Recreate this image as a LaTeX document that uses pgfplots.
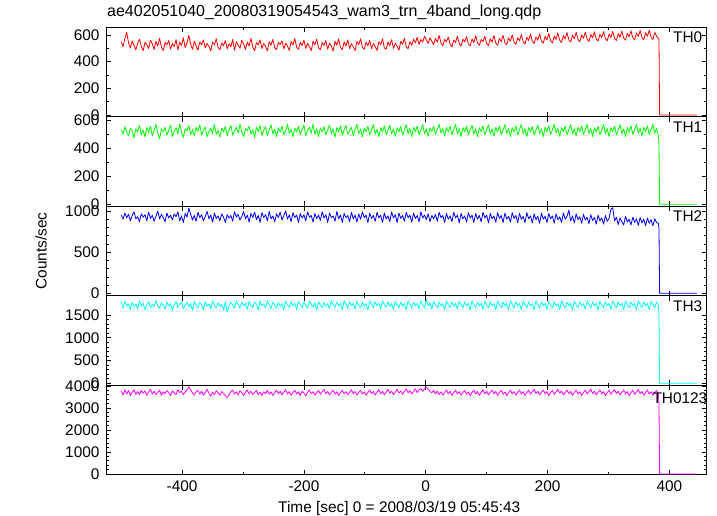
\documentclass[border=0pt]{standalone}
\usepackage{fontspec}
\setmainfont{Liberation Sans}
\usepackage{pgfplots}
\usepackage{pgfplotstable}
\pgfplotsset{compat=1.18}
\definecolor{qred}{rgb}{1,0,0}
\definecolor{qgreen}{rgb}{0,1,0}
\definecolor{qblue}{rgb}{0,0,1}
\definecolor{qcyan}{rgb}{0,1,1}
\definecolor{qmag}{rgb}{1,0,1}

\pgfplotstableread{
t r g b c m
-500 548 531 952 1790 3760
-497 512 498 901 1650 3590
-494 575 552 975 1805 3820
-491 620 509 918 1700 3640
-488 541 487 960 1745 3790
-485 503 541 880 1620 3560
-482 556 523 945 1780 3710
-479 521 472 990 1690 3830
-476 489 538 905 1735 3620
-473 537 515 930 1640 3745
-470 569 561 870 1810 3600
-467 514 494 965 1700 3800
-464 482 529 925 1760 3680
-461 545 479 955 1615 3770
-458 527 547 880 1725 3575
-455 498 512 985 1795 3720
-452 561 556 910 1660 3850
-449 533 488 948 1740 3630
-446 491 525 875 1690 3760
-443 552 570 935 1820 3610
-440 517 503 1000 1705 3700
-437 574 466 905 1650 3810
-434 508 534 960 1770 3580
-431 484 517 920 1715 3740
-428 543 549 870 1630 3650
-425 526 491 975 1785 3795
-422 559 528 915 1690 3700
-419 495 564 950 1750 3560
-416 537 483 890 1605 3780
-413 513 519 965 1730 3690
-410 566 545 930 1800 3615
-407 488 501 990 1670 3830
-404 547 573 880 1745 3700
-401 522 512 940 1780 3760
-398 579 476 860 1640 3600
-395 506 537 970 1720 3735
-392 541 524 925 1790 3820
-389 597 559 1035 1680 3960
-386 531 497 960 1755 3830
-383 493 532 890 1600 3680
-380 554 485 945 1805 3590
-377 519 548 875 1700 3745
-374 486 521 985 1650 3800
-371 548 566 920 1770 3630
-368 527 493 955 1725 3760
-365 563 529 880 1615 3580
-362 502 551 935 1795 3710
-359 538 481 995 1690 3840
-356 515 517 905 1740 3670
-353 481 542 950 1635 3540
-350 546 505 865 1815 3720
-347 529 568 975 1710 3610
-344 572 499 910 1660 3790
-341 507 526 940 1770 3690
-338 489 478 880 1690 3575
-335 541 544 965 1735 3750
-332 520 515 925 1610 3660
-329 558 553 860 1790 3560
-326 496 489 955 1560 3470
-323 534 531 915 1705 3600
-320 512 562 945 1775 3730
-317 567 494 875 1720 3810
-314 485 520 990 1650 3640
-311 549 547 925 1815 3740
-308 524 506 960 1735 3590
-305 501 571 890 1665 3780
-302 560 513 935 1780 3690
-299 533 482 995 1700 3560
-296 492 538 905 1750 3730
-293 547 525 950 1625 3820
-290 518 556 865 1800 3640
-287 575 498 970 1715 3760
-284 509 534 920 1665 3600
-281 483 476 985 1785 3700
-278 542 549 895 1740 3800
-275 527 518 945 1620 3610
-272 563 560 860 1810 3720
-269 498 491 980 1705 3560
-266 536 527 920 1745 3740
-263 514 553 955 1660 3650
-260 481 486 880 1820 3805
-257 550 529 995 1715 3620
-254 523 567 905 1640 3735
-251 568 501 940 1785 3570
-248 505 535 870 1730 3700
-245 490 480 965 1655 3815
-242 545 546 920 1775 3655
-239 529 514 985 1690 3760
-236 556 557 890 1750 3590
-233 496 493 945 1615 3720
-230 538 522 1000 1805 3830
-227 517 571 900 1725 3640
-224 484 505 955 1670 3745
-221 551 533 870 1790 3580
-218 526 479 980 1700 3710
-215 573 542 920 1760 3800
-212 508 519 950 1620 3630
-209 493 555 860 1800 3735
-206 546 496 970 1725 3570
-203 521 531 915 1665 3760
-200 562 564 955 1785 3680
-197 499 487 880 1710 3545
-194 537 526 990 1650 3720
-191 513 549 925 1810 3815
-188 482 508 945 1740 3650
-185 553 572 865 1680 3740
-182 528 499 970 1770 3585
-179 569 537 905 1605 3700
-176 504 482 950 1790 3790
-173 490 544 885 1715 3625
-170 544 516 990 1660 3735
-167 522 553 915 1775 3840
-164 558 495 955 1695 3650
-161 494 528 860 1750 3750
-158 539 565 975 1635 3590
-155 516 504 920 1815 3715
-152 480 538 940 1725 3805
-149 552 477 875 1670 3630
-146 525 547 995 1785 3740
-143 570 513 905 1700 3570
-140 506 559 950 1755 3700
-137 491 491 860 1620 3800
-134 547 530 970 1810 3640
-131 519 562 920 1730 3745
-128 564 497 945 1660 3595
-125 497 524 870 1790 3720
-122 535 548 985 1705 3825
-119 512 486 905 1760 3650
-116 483 533 950 1630 3755
-113 551 569 865 1800 3585
-110 527 502 965 1720 3705
-107 572 536 900 1670 3800
-104 507 479 990 1780 3640
-101 492 543 920 1695 3730
-98 546 517 950 1750 3580
-95 520 556 860 1615 3700
-92 560 493 975 1805 3820
-89 498 529 910 1725 3655
-86 536 566 945 1665 3750
-83 514 500 875 1790 3590
-80 484 534 985 1705 3715
-77 550 480 915 1760 3830
-74 528 545 950 1630 3650
-71 571 518 860 1815 3755
-68 505 558 975 1725 3600
-65 493 494 905 1670 3720
-62 548 527 940 1785 3840
-59 521 563 870 1690 3665
-56 565 501 990 1750 3770
-53 500 537 915 1615 3610
-50 538 483 955 1805 3720
-47 517 546 860 1715 3850
-44 486 515 975 1660 3680
-41 553 555 910 1785 3770
-38 531 492 945 1700 3620
-35 574 530 875 1750 3740
-32 510 567 985 1620 3860
-29 497 503 920 1810 3690
-26 549 538 950 1725 3790
-23 524 481 865 1665 3640
-20 569 547 975 1785 3760
-17 541 516 910 1700 3870
-14 583 557 945 1760 3700
-11 529 495 870 1630 3820
-8 566 531 990 1815 3880
-5 547 568 915 1725 3760
-2 591 502 950 1670 3870
1 562 536 895 1840 3960
4 538 484 965 1705 3850
7 580 545 870 1760 3750
10 553 519 945 1630 3690
13 529 556 905 1800 3800
16 574 498 960 1715 3640
19 546 533 875 1665 3770
22 597 570 985 1785 3610
25 541 507 920 1700 3735
28 520 540 945 1750 3590
31 567 486 860 1615 3700
34 549 548 970 1810 3820
37 585 515 900 1720 3640
40 531 558 940 1665 3760
43 511 495 870 1780 3570
46 563 532 985 1695 3700
49 544 569 915 1755 3815
52 592 503 950 1625 3640
55 537 539 855 1805 3745
58 516 482 970 1720 3580
61 569 546 905 1660 3700
64 548 517 940 1790 3800
67 588 556 865 1700 3625
70 533 494 980 1755 3735
73 518 531 915 1610 3560
76 571 563 950 1815 3710
79 543 500 860 1720 3805
82 594 536 970 1670 3630
85 539 480 900 1785 3750
88 522 545 945 1700 3580
91 566 518 870 1755 3705
94 550 559 985 1620 3830
97 590 496 915 1810 3650
100 536 528 950 1725 3760
103 519 566 855 1665 3590
106 572 502 970 1790 3720
109 547 537 905 1705 3810
112 596 484 940 1750 3640
115 540 549 865 1615 3755
118 524 514 980 1805 3570
121 575 557 910 1720 3705
124 551 493 945 1665 3800
127 598 530 860 1785 3620
130 542 568 975 1700 3730
133 527 505 900 1755 3560
136 578 539 935 1620 3700
139 553 481 865 1815 3815
142 601 547 980 1725 3640
145 546 516 910 1660 3745
148 530 558 945 1790 3580
151 580 495 855 1700 3710
154 557 532 970 1755 3820
157 604 569 900 1615 3630
160 549 501 935 1810 3745
163 533 538 860 1720 3570
166 583 483 980 1665 3700
169 559 546 905 1785 3810
172 607 515 940 1700 3625
175 552 554 855 1750 3735
178 536 492 965 1620 3840
181 586 528 895 1815 3660
184 561 565 935 1725 3760
187 609 503 850 1665 3590
190 555 537 975 1790 3720
193 539 481 900 1705 3815
196 590 548 935 1755 3640
199 564 518 860 1615 3745
202 612 559 970 1805 3560
205 557 496 905 1720 3700
208 541 531 940 1665 3800
211 593 570 850 1785 3620
214 567 506 965 1700 3735
217 615 540 895 1750 3840
220 560 484 930 1620 3670
223 544 545 860 1810 3770
226 596 519 975 1725 3590
229 570 555 900 1665 3715
232 618 494 935 1785 3820
235 563 533 1010 1700 3650
238 547 567 880 1755 3750
241 599 502 940 1615 3580
244 572 538 855 1805 3705
247 620 485 965 1720 3815
250 566 549 895 1665 3630
253 550 517 930 1790 3740
256 601 558 850 1700 3570
259 575 497 960 1750 3700
262 622 532 890 1620 3810
265 568 569 925 1815 3640
268 552 505 845 1725 3745
271 604 539 955 1665 3850
274 577 482 885 1785 3660
277 624 546 920 1700 3760
280 570 516 840 1755 3590
283 555 556 950 1615 3715
286 606 495 880 1805 3815
289 580 531 915 1720 3640
292 626 568 840 1665 3745
295 573 504 945 1790 3560
298 557 538 875 1700 3700
301 608 483 910 1750 3805
304 582 545 1020 1620 3625
307 628 516 1040 1815 3735
310 575 557 880 1725 3840
313 559 494 925 1665 3660
316 611 530 835 1785 3760
319 584 567 915 1700 3590
322 630 503 870 1755 3715
325 577 537 830 1615 3815
328 561 482 935 1805 3640
331 613 547 865 1720 3745
334 586 515 900 1665 3560
337 632 558 830 1790 3700
340 579 496 925 1700 3805
343 563 532 860 1750 3620
346 615 569 905 1620 3730
349 588 506 825 1815 3840
352 634 541 920 1725 3650
355 581 485 855 1665 3755
358 565 548 900 1785 3580
361 617 518 820 1700 3705
364 590 559 915 1755 3820
367 636 497 850 1615 3635
370 583 533 895 1805 3740
373 567 570 820 1725 3570
376 619 507 905 1665 3700
379 592 542 860 1785 3800
382 575 490 850 1700 3640
383 565 430 780 1470 3150
384 0 0 0 0 0
445 0 0 0 0 0
}\lc

\tikzset{thlab/.style={anchor=north east, font=\fontsize{15.4}{18}\selectfont, inner sep=0pt}}

\pgfplotsset{
  panel/.style={
    scale only axis, width=600.5pt, height=89.5pt,
    xmin=-525, xmax=461,
    xtick={-400,-200,0,200,400},
    minor x tick num=1,
    xtick pos=both, ytick pos=both,
    xticklabel pos=lower, yticklabel pos=left,
    tick align=inside,
    major tick length=5pt, minor tick length=2.5pt,
    every tick/.style={black, line width=0.7pt},
    axis line style={line width=0.9pt, black},
    /pgf/number format/assume math mode=true,
    /pgf/number format/1000 sep={},
    tick label style={font=\fontsize{15.4}{18}\selectfont},
    yticklabel style={xshift=-3pt},
    xticklabel style={yshift=-2pt},
    scaled ticks=false,
    clip=false,
    anchor=south west,
  },
  midpanel/.style={xticklabels={}},
  series/.style={line width=0.8pt, line join=round},
}

\begin{document}
\begin{tikzpicture}[x=1pt,y=1pt]
\path[use as bounding box] (0,0) rectangle (717,516);

% TH0
\begin{axis}[panel, midpanel, at={(106pt,399.2pt)}, ymin=-14, ymax=658,
  ytick={0,200,400,600}, minor y tick num=1]
\addplot[series, qred] table[x=t,y=r]{\lc};
\node[thlab] at (rel axis cs:1,1) [xshift=-4pt,yshift=-4.5pt] {TH0};
\end{axis}

% TH1
\begin{axis}[panel, midpanel, at={(106pt,309.7pt)}, ymin=-14, ymax=623,
  ytick={0,200,400,600}, minor y tick num=1]
\addplot[series, qgreen] table[x=t,y=g]{\lc};
\node[thlab] at (rel axis cs:1,1) [xshift=-4pt,yshift=-5pt] {TH1};
\end{axis}

% TH2
\begin{axis}[panel, midpanel, at={(106pt,220.2pt)}, ymin=-30, ymax=1057,
  ytick={0,500,1000}, minor y tick num=4]
\addplot[series, qblue] table[x=t,y=b]{\lc};
\node[thlab] at (rel axis cs:1,1) [xshift=-4pt,yshift=-4pt] {TH2};
\end{axis}

% TH3
\begin{axis}[panel, midpanel, at={(106pt,130.7pt)}, ymin=-44, ymax=1922,
  ytick={0,500,1000,1500}, minor y tick num=4]
\addplot[series, qcyan] table[x=t,y=c]{\lc};
\node[thlab] at (rel axis cs:1,1) [xshift=-4pt,yshift=-5pt] {TH3};
\end{axis}

% TH0123
\begin{axis}[panel, at={(106pt,41.2pt)}, ymin=-37, ymax=4030,
  ytick={0,1000,2000,3000,4000}, minor y tick num=4,
  xlabel={Time [sec] 0 = 2008/03/19 05:45:43},
  xlabel style={font=\fontsize{15.4}{18}\selectfont, yshift=-3pt, xshift=-7pt}]
\addplot[series, qmag] table[x=t,y=m]{\lc};
\node[thlab] at (rel axis cs:1,1) [xshift=1pt,yshift=-7pt] {TH0123};
\end{axis}

\node[anchor=base west, font=\fontsize{16}{19}\selectfont, inner sep=0pt] at (107,499) {ae402051040\_20080319054543\_wam3\_trn\_4band\_long.qdp};
\node[rotate=90, font=\fontsize{15.4}{18}\selectfont, inner sep=0pt] at (41,265) {Counts/sec};
\end{tikzpicture}
\end{document}
